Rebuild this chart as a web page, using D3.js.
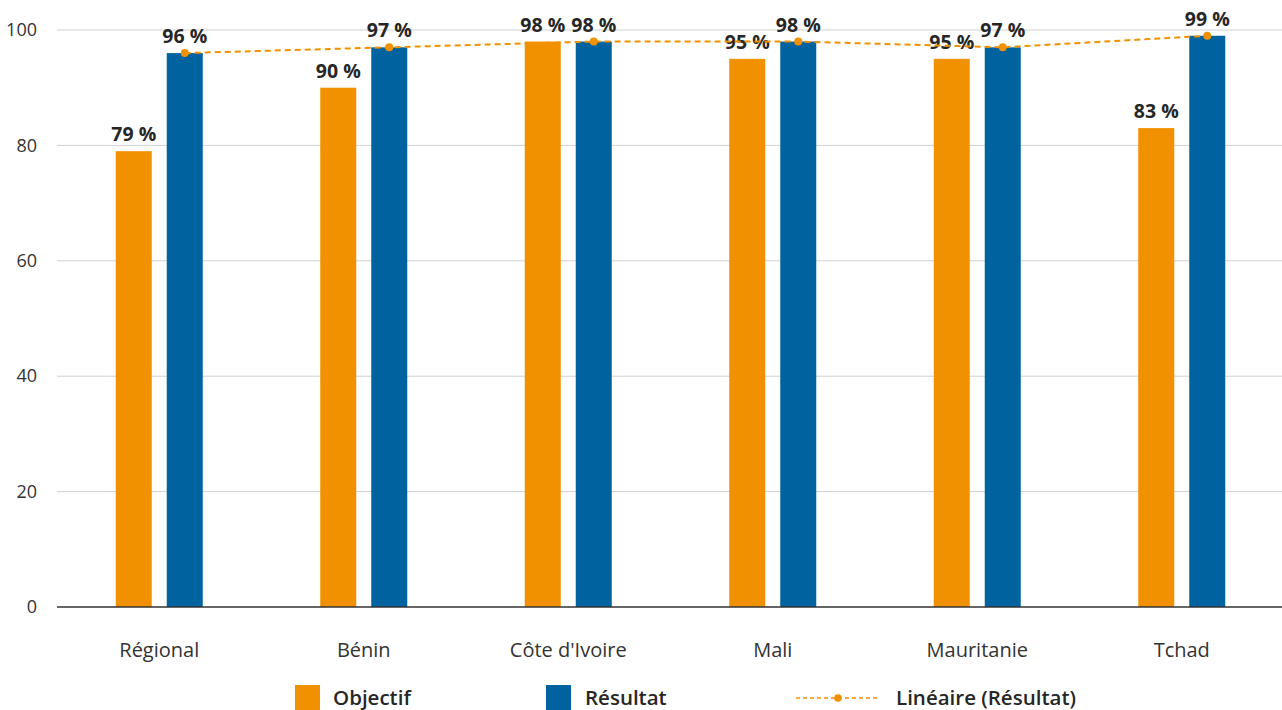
<!DOCTYPE html>
<html>
<head>
<meta charset="utf-8">
<script src="https://cdn.jsdelivr.net/npm/d3@7"></script>
<style>
  html, body { margin: 0; padding: 0; background: #fff; }
  svg { display: block; font-family: "Open Sans", Lato, sans-serif; }
</style>
</head>
<body>
<svg id="chart" width="1282" height="710"></svg>
<script>
const categories = ["Régional", "Bénin", "Côte d'Ivoire", "Mali", "Mauritanie", "Tchad"];
const objectif = [79, 90, 98, 95, 95, 83];
const resultat = [96, 97, 98, 98, 97, 99];
const yTicks = [0, 20, 40, 60, 80, 100];
const seriesNames = ["Objectif", "Résultat", "Linéaire (Résultat)"];

const ORANGE = "#F29100";
const BLUE = "#0063A0";
const TEXT = "#262626";
const FONT = "'Open Sans', sans-serif";

const svg = d3.select("#chart");
const margin = { left: 57, right: -2 };
const W = 1282;

const x = d3.scaleBand().domain(categories).range([margin.left, W - margin.right]);
const y = d3.scaleLinear().domain([0, 100]).range([607, 30]);

// Two bars per group, 36 px wide with a 15 px gap
const barW = 36, gap = 15;
const sub = d3.scaleBand().domain(["o", "r"])
  .range([-(barW + gap / 2), barW + gap / 2])
  .paddingInner(gap / (barW + gap)).paddingOuter(0);

// Grid lines
svg.append("g").selectAll("line").data(yTicks.filter(t => t > 0)).join("line")
  .attr("x1", margin.left).attr("x2", W)
  .attr("y1", d => y(d)).attr("y2", d => y(d))
  .attr("stroke", "#d0d0d0").attr("stroke-width", 1);

// Y axis labels
const yAxis = d3.axisLeft(y).tickValues(yTicks).tickSize(0).tickPadding(20);
const gy = svg.append("g").attr("transform", `translate(${margin.left},0)`).call(yAxis);
gy.select(".domain").remove();
gy.selectAll("text").attr("font-size", 18).attr("fill", "#333").attr("font-family", FONT);

// Bars
const groups = svg.append("g").selectAll("g").data(categories).join("g")
  .attr("transform", d => `translate(${x(d) + x.bandwidth() / 2},0)`);

groups.append("rect")
  .attr("x", sub("o"))
  .attr("width", sub.bandwidth())
  .attr("y", (d, i) => y(objectif[i]))
  .attr("height", (d, i) => y(0) - y(objectif[i]))
  .attr("fill", ORANGE);

groups.append("rect")
  .attr("x", sub("r"))
  .attr("width", sub.bandwidth())
  .attr("y", (d, i) => y(resultat[i]))
  .attr("height", (d, i) => y(0) - y(resultat[i]))
  .attr("fill", BLUE);

// Baseline
svg.append("line").attr("x1", margin.left).attr("x2", W)
  .attr("y1", y(0)).attr("y2", y(0)).attr("stroke", "#333").attr("stroke-width", 1.3);

// X axis labels
const xAxis = d3.axisBottom(x).tickSize(0).tickPadding(36);
const gx = svg.append("g").attr("transform", `translate(0,${y(0)})`).call(xAxis);
gx.select(".domain").remove();
gx.selectAll("text").attr("font-size", 20).attr("fill", "#333").attr("font-family", FONT);

// Result line (dashed) with markers
const cx = (d) => x(d) + x.bandwidth() / 2 + sub("r") + sub.bandwidth() / 2;
const line = d3.line().x((d, i) => cx(categories[i])).y(d => y(d));
svg.append("path").datum(resultat).attr("d", line)
  .attr("fill", "none").attr("stroke", ORANGE).attr("stroke-width", 2).attr("stroke-dasharray", "6,4");

// Value labels
const fmt = v => `${v} %`;
groups.append("text")
  .attr("x", sub("o") + sub.bandwidth() / 2)
  .attr("y", (d, i) => y(objectif[i]) - 10)
  .attr("text-anchor", "middle").attr("font-size", 19.5).attr("font-weight", 700).attr("fill", TEXT)
  .text((d, i) => fmt(objectif[i]));
groups.append("text")
  .attr("x", sub("r") + sub.bandwidth() / 2)
  .attr("y", (d, i) => y(resultat[i]) - 10)
  .attr("text-anchor", "middle").attr("font-size", 19.5).attr("font-weight", 700).attr("fill", TEXT)
  .text((d, i) => fmt(resultat[i]));

svg.append("g").selectAll("circle").data(resultat).join("circle")
  .attr("cx", (d, i) => cx(categories[i])).attr("cy", d => y(d)).attr("r", 4).attr("fill", ORANGE);

// Legend
const lg = svg.append("g").attr("font-family", FONT);
lg.append("rect").attr("x", 295).attr("y", 685).attr("width", 25).attr("height", 25).attr("fill", ORANGE);
lg.append("text").attr("x", 333).attr("y", 705).attr("font-size", 20.5).attr("font-weight", 600).attr("fill", TEXT).text(seriesNames[0]);
lg.append("rect").attr("x", 546).attr("y", 685).attr("width", 25).attr("height", 25).attr("fill", BLUE);
lg.append("text").attr("x", 585).attr("y", 705).attr("font-size", 20.5).attr("font-weight", 600).attr("fill", TEXT).text(seriesNames[1]);
lg.append("line").attr("x1", 796).attr("x2", 880).attr("y1", 698).attr("y2", 698)
  .attr("stroke", ORANGE).attr("stroke-width", 1.6).attr("stroke-dasharray", "4,3");
lg.append("circle").attr("cx", 838).attr("cy", 698).attr("r", 3.8).attr("fill", ORANGE);
lg.append("text").attr("x", 896).attr("y", 705).attr("font-size", 20.5).attr("font-weight", 600).attr("fill", TEXT).text(seriesNames[2]);
</script>
</body>
</html>
